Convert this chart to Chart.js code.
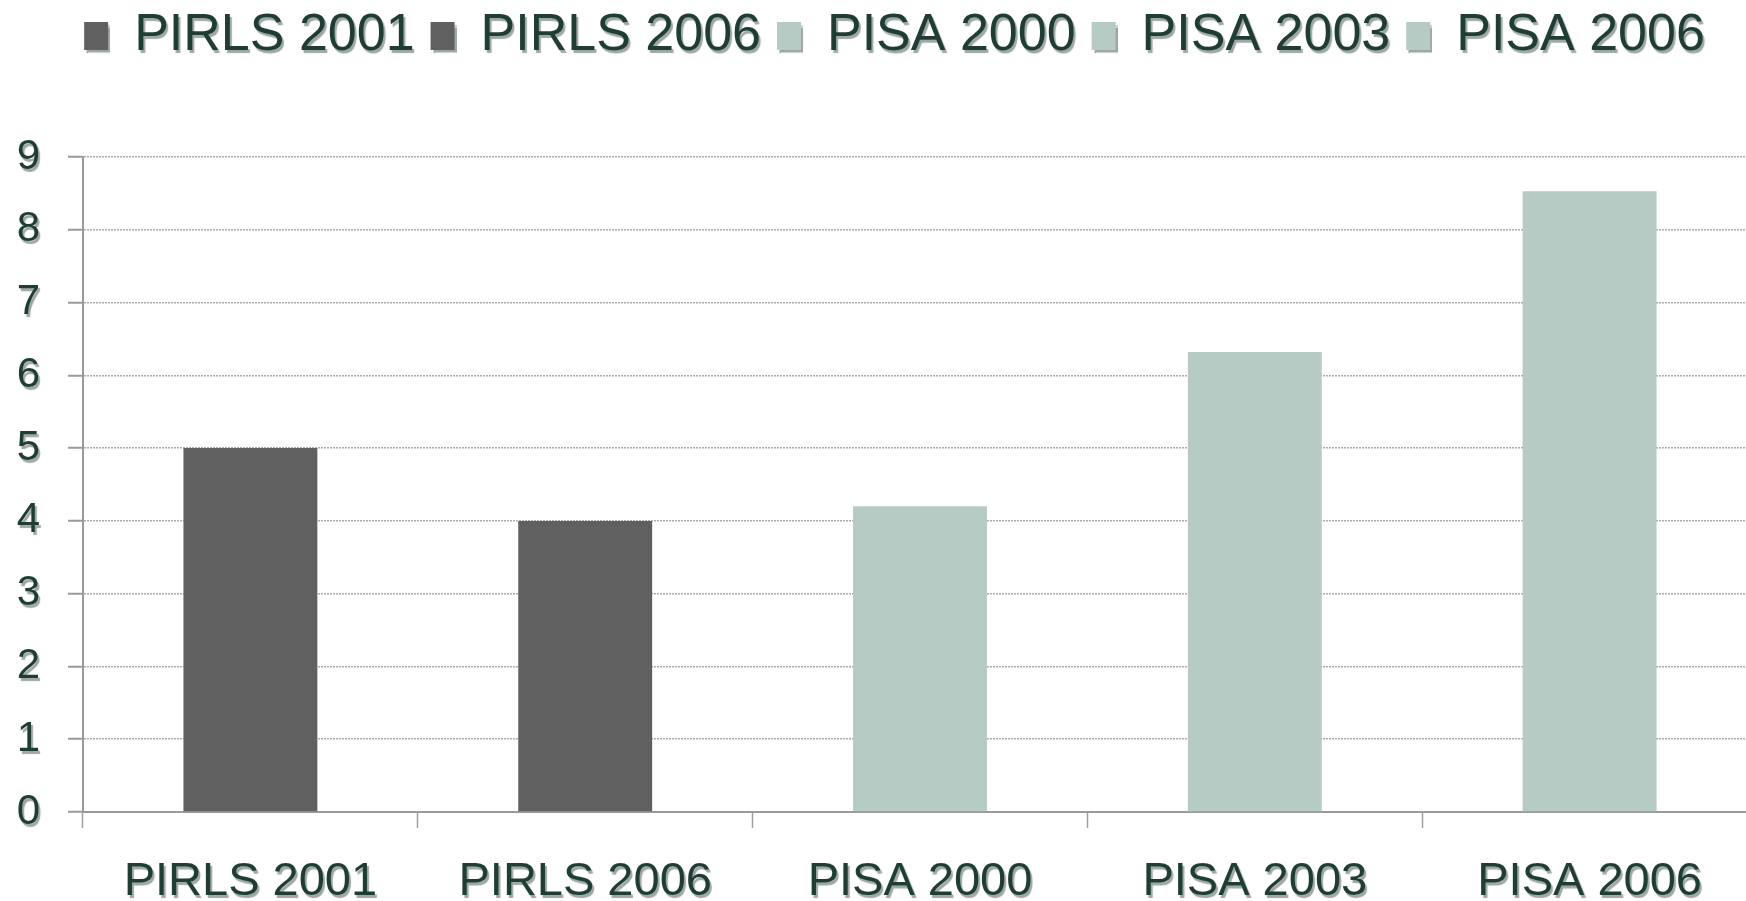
<!DOCTYPE html>
<html>
<head>
<meta charset="utf-8">
<script src="https://cdn.jsdelivr.net/npm/chart.js@4.4.1/dist/chart.umd.min.js"></script>
<style>
  html, body { margin: 0; padding: 0; background: #ffffff; overflow: hidden; }
  #wrap { width: 1746px; height: 901px; position: relative; overflow: hidden; }
  #inner { width: 1757px; height: 901px; position: relative; }
</style>
</head>
<body>
<div id="wrap"><div id="inner"><canvas id="c"></canvas></div></div>
<script>
// ---- data ----
const categories = ['PIRLS 2001', 'PIRLS 2006', 'PISA 2000', 'PISA 2003', 'PISA 2006'];
const seriesNames = ['PIRLS 2001', 'PIRLS 2006', 'PISA 2000', 'PISA 2003', 'PISA 2006'];
const seriesValues = [5.0, 4.0, 4.2, 6.32, 8.53];
const seriesColors = ['#606060', '#606060', '#b5cbc4', '#b5cbc4', '#b5cbc4'];
const yTickValues = [0, 1, 2, 3, 4, 5, 6, 7, 8, 9];

const TEXT = '#1f3d35';
const FONT = "'Liberation Sans', Arial, sans-serif";

const datasets = seriesNames.map((name, i) => ({
  label: name,
  data: categories.map((c, j) => (j === i ? seriesValues[i] : null)),
  backgroundColor: seriesColors[i],
  borderWidth: 0,
  categoryPercentage: 1.0,
  barPercentage: 0.4
}));

function withShadow(ctx, fn) {
  ctx.save();
  ctx.shadowColor = 'rgba(40,60,55,0.45)';
  ctx.shadowOffsetX = 2;
  ctx.shadowOffsetY = 3;
  ctx.shadowBlur = 1;
  fn();
  ctx.restore();
}

const LEGEND_HEIGHT = 163;
const LEGEND_SHIFT_X = 8;

const tweakPlugin = {
  id: 'tweak',
  beforeLayout(chart) {
    const lg = chart.legend;
    if (lg && !lg._patched) {
      lg._patched = true;
      const origFit = lg.fit;
      lg.fit = function () { origFit.call(this); this.height = LEGEND_HEIGHT; };
      const origDraw = lg.draw;
      lg.draw = function () {
        const self = this;
        const ctx = chart.ctx;
        ctx.save();
        ctx.translate(LEGEND_SHIFT_X, 0);
        withShadow(ctx, () => origDraw.call(self));
        ctx.restore();
      };
    }
  },
  beforeDraw(chart) {
    ['x', 'y'].forEach(id => {
      const s = chart.scales[id];
      if (s && !s._patched) {
        s._patched = true;
        const orig = s.drawLabels;
        s.drawLabels = function (area) { const self = this; withShadow(chart.ctx, () => orig.call(self, area)); };
      }
    });
  }
};

new Chart(document.getElementById('c'), {
  type: 'bar',
  data: { labels: categories, datasets },
  plugins: [tweakPlugin],
  options: {
    responsive: true,
    maintainAspectRatio: false,
    animation: false,
    layout: { padding: { left: 16, right: 0, top: -6, bottom: 0 } },
    plugins: {
      tooltip: { enabled: false },
      legend: {
        display: true,
        position: 'top',
        labels: {
          color: TEXT,
          font: { family: FONT, size: 52 },
          boxWidth: 24,
          boxHeight: 28,
          padding: 16
        }
      }
    },
    scales: {
      x: {
        stacked: true,
        offset: true,
        afterFit(scale) {
          scale.paddingLeft = 0;
          scale.paddingRight = 0;
          scale.height = 89;
        },
        grid: {
          display: true,
          offset: true,
          drawOnChartArea: false,
          drawTicks: true,
          tickLength: 16,
          tickColor: '#a0a0a0',
          tickWidth: 1.5
        },
        border: { display: true, color: '#9a9a9a', width: 2 },
        ticks: {
          color: TEXT,
          font: { family: FONT, size: 47, lineHeight: 1.2 },
          padding: 26,
          maxRotation: 0,
          autoSkip: false
        }
      },
      y: {
        stacked: true,
        min: 0,
        max: 9,
        afterBuildTicks(scale) { scale.ticks = yTickValues.map(v => ({ value: v })); },
        afterFit(scale) {
          scale.width = 67;
          scale.paddingTop = 0;
          scale.paddingBottom = 0;
        },
        grid: {
          color: (ctx) => (ctx.tick && ctx.tick.value === 0 ? 'rgba(0,0,0,0)' : '#acacac'),
          lineWidth: 1.5,
          drawTicks: true,
          tickLength: 15,
          tickColor: '#9a9a9a',
          tickWidth: 2,
          tickBorderDash: []
        },
        border: { display: true, color: '#9a9a9a', width: 2, dash: [2, 1] },
        ticks: {
          color: TEXT,
          font: { family: FONT, size: 42 },
          padding: 28,
          stepSize: 1
        }
      }
    }
  }
});
</script>
</body>
</html>
